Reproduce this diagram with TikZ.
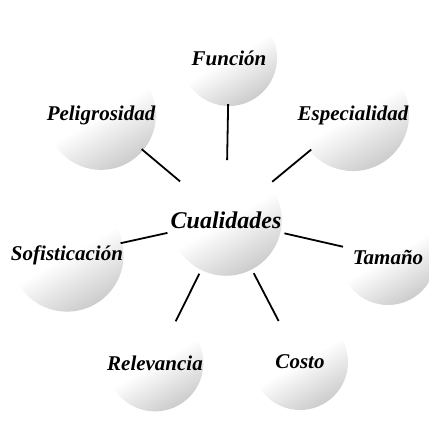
\documentclass[tikz,border=0pt]{standalone}
\usepackage{fontspec}
\setmainfont{Liberation Serif}
\usetikzlibrary{positioning, calc}

\begin{document}
\begin{tikzpicture}[x=1pt, y=-1pt,
    quality/.style={circle, minimum size=96pt, inner sep=0pt, font=\fontsize{21}{24}\selectfont\bfseries\itshape,
        shading=axis, top color=white, bottom color=gray!40, middle color=white, shading angle=30},
    link/.style={line width=1.8pt, shorten <=-2pt, shorten >=4pt}
]
    \useasboundingbox (0,0) rectangle (429,422);
    % centre
    \node [quality, font=\fontsize{24}{28}\selectfont\bfseries\itshape] (cual) at (226,220) {Cualidades};
    % surrounding qualities
    \node [quality] (fun) at (229,58) {Función};
    \node [quality] (pel) at (101,115) {Peligrosidad};
    \node [quality] (esp) at (353,115) {Especialidad};
    \node [quality] (sof) at (67,255) {Sofisticación};
    \node [quality] (tam) at (388,257) {Tamaño};
    \node [quality] (rel) at (155,363) {Relevancia};
    \node [quality] (cos) at (300,362) {Costo};
    \foreach \q in {fun, pel, esp, sof, tam, rel, cos}
        \draw [link] (\q) -- (cual);
\end{tikzpicture}
\end{document}
